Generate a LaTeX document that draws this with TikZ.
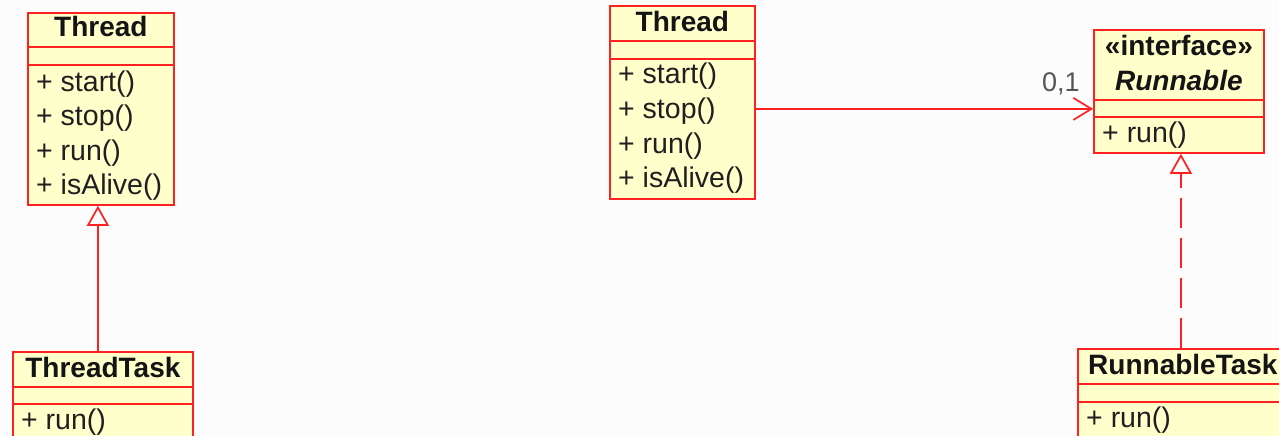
\documentclass[tikz,border=0pt]{standalone}
\usepackage{fontspec}
\setmainfont{Liberation Sans}
\usetikzlibrary{arrows.meta}
\definecolor{umlred}{HTML}{FF2020}
\definecolor{umlfill}{HTML}{FFFFCC}
\definecolor{multgray}{HTML}{555555}
\definecolor{paper}{HTML}{FCFCFC}
\begin{document}
\begin{tikzpicture}[x=1pt,y=-1pt,
  box/.style={draw=umlred, fill=umlfill, line width=1.8pt, inner sep=0pt, anchor=north west},
  sep/.style={draw=umlred, line width=1.8pt},
  title/.style={font=\fontsize{28}{28}\selectfont\bfseries, anchor=base, inner sep=0pt, text=black!92},
  member/.style={font=\fontsize{28.5}{28.5}\selectfont, anchor=base west, inner sep=0pt, text=black!88},
  gen/.style={draw=umlred, line width=1.7pt, {Triangle[open, length=20pt, width=22pt, line width=1.7pt]}-},
  realize/.style={draw=umlred, line width=1.7pt, dash pattern=on 30pt off 10pt, -{Triangle[open, length=20pt, width=22pt, line width=1.7pt]}},
  assoc/.style={draw=umlred, line width=1.7pt, -{Straight Barb[length=18pt, width=22pt, line width=1.7pt]}},
  mult/.style={font=\fontsize{27}{27}\selectfont, text=multgray, anchor=base west, inner sep=0pt}]

\useasboundingbox (0,0) rectangle (1279,436);
\clip (0,0) rectangle (1279,436);
\fill[paper] (0,0) rectangle (1279,436);

% ---- Thread (inheritance variant) ----
\node[box, minimum width=146pt, minimum height=192pt] (LT) at (27,12) {};
\draw[sep] (LT.west |- 0,47) -- (LT.east |- 0,47);
\draw[sep] (LT.west |- 0,65) -- (LT.east |- 0,65);
\node[title] (LTtitle) at (LT.north |- 0,36.5) {Thread};
\node[member] (LTm1) at (36,91) {+ start()};
\node[member] (LTm2) at (36,125.5) {+ stop()};
\node[member] (LTm3) at (36,160) {+ run()};
\node[member] (LTm4) at (36,194.5) {+ isAlive()};

% ---- ThreadTask ----
\node[box, minimum width=180pt, minimum height=110pt] (TT) at (12,351) {};
\draw[sep] (TT.west |- 0,387) -- (TT.east |- 0,387);
\draw[sep] (TT.west |- 0,404) -- (TT.east |- 0,404);
\node[title] (TTtitle) at (TT.north |- 0,377) {ThreadTask};
\node[member] (TTm1) at (21,429) {+ run()};

\draw[gen] ([xshift=-3pt]LT.south) -- ([xshift=-3pt]LT.south |- TT.north);

% ---- Thread (composition variant) ----
\node[box, minimum width=145pt, minimum height=193pt] (MT) at (609,5) {};
\draw[sep] (MT.west |- 0,41) -- (MT.east |- 0,41);
\draw[sep] (MT.west |- 0,59) -- (MT.east |- 0,59);
\node[title] (MTtitle) at (MT.north |- 0,31.5) {Thread};
\node[member] (MTm1) at (618,84) {+ start()};
\node[member] (MTm2) at (618,118.5) {+ stop()};
\node[member] (MTm3) at (618,153) {+ run()};
\node[member] (MTm4) at (618,187.5) {+ isAlive()};

% ---- Runnable interface ----
\node[box, minimum width=170pt, minimum height=123pt] (RB) at (1093,29) {};
\draw[sep] (RB.west |- 0,100) -- (RB.east |- 0,100);
\draw[sep] (RB.west |- 0,117) -- (RB.east |- 0,117);
\node[title] (RBstereo) at (RB.north |- 0,56) {«interface»};
\node[title, font=\fontsize{28}{28}\selectfont\bfseries\itshape] (RBtitle) at (RB.north |- 0,90) {Runnable};
\node[member] (RBm1) at (1102,142) {+ run()};

% ---- RunnableTask ----
\node[box, minimum width=213pt, minimum height=110pt] (RT) at (1077,348) {};
\draw[sep] (RT.west |- 0,384) -- (RT.east |- 0,384);
\draw[sep] (RT.west |- 0,402) -- (RT.east |- 0,402);
\node[title, anchor=base west] (RTtitle) at (1088,374) {RunnableTask};
\node[member] (RTm1) at (1086,427) {+ run()};

% ---- connectors ----
\draw[assoc] ([yshift=-6.5pt]MT.east) -- ([yshift=-6.5pt]MT.east -| RB.west);
\node[mult] (multRB) at (1042,91) {0,1};
\draw[realize] ([xshift=2pt]RB.south |- RT.north) -- ([xshift=2pt]RB.south);

\end{tikzpicture}
\end{document}
